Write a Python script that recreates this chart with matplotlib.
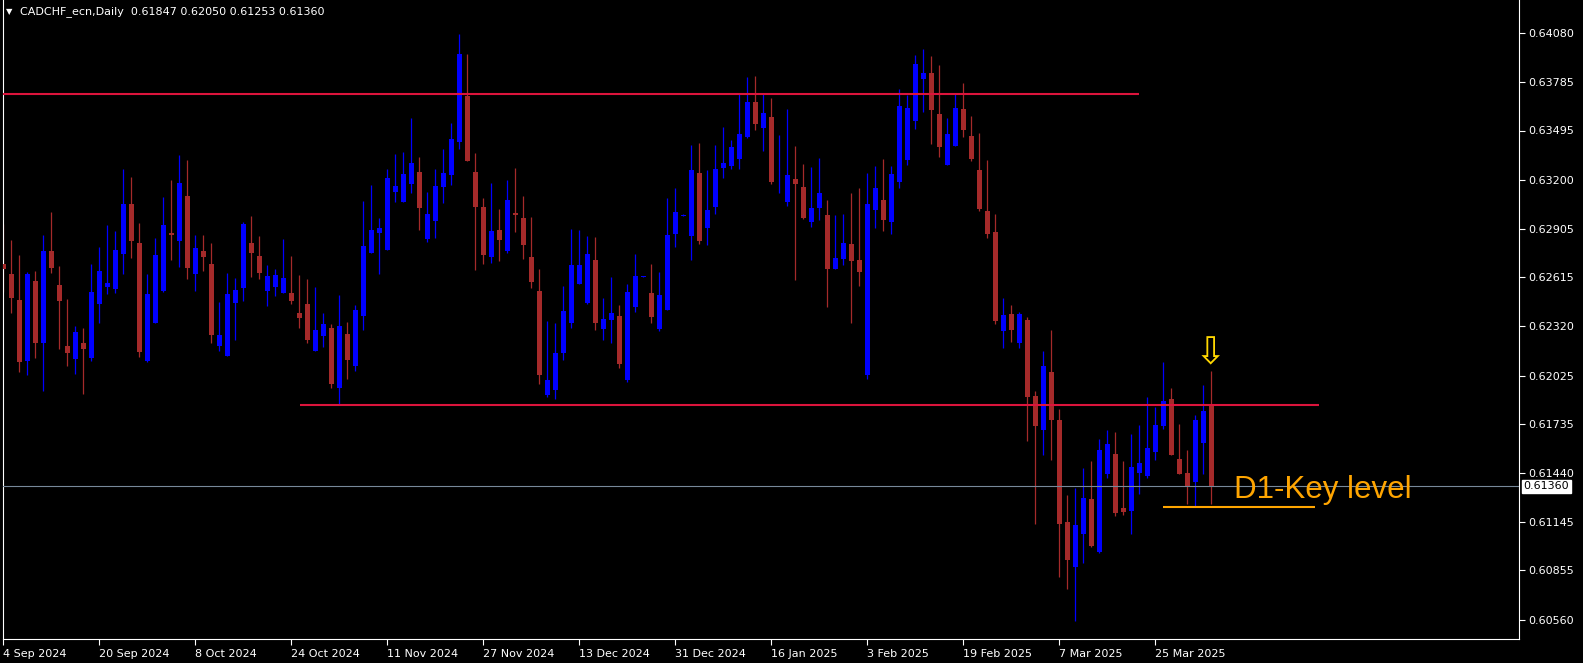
import numpy as np
import matplotlib
matplotlib.use("Agg")
import matplotlib.pyplot as plt

# daily CADCHF candles, 4 Sep 2024 .. 3 Apr 2025 (one per trading day)
opens = [0.62694, 0.62634, 0.62478, 0.62114, 0.62592, 0.62218, 0.62772, 0.62568, 0.62202, 0.62124,
         0.62220, 0.62132, 0.62456, 0.62556, 0.62544, 0.62756, 0.63054, 0.62820, 0.62114, 0.62342,
         0.62534, 0.62880, 0.62834, 0.63102, 0.62636, 0.62772, 0.62694, 0.62204, 0.62144, 0.62462,
         0.62552, 0.62820, 0.62742, 0.62534, 0.62558, 0.62522, 0.62520, 0.62400, 0.62454, 0.62174,
         0.62264, 0.62310, 0.61952, 0.62274, 0.62084, 0.62384, 0.62762, 0.62882, 0.62780, 0.63128,
         0.63068, 0.63176, 0.63246, 0.62846, 0.62954, 0.63158, 0.63230, 0.63428, 0.63702, 0.63246,
         0.63038, 0.62738, 0.62900, 0.62774, 0.63000, 0.62970, 0.62736, 0.62532, 0.61908, 0.61940,
         0.62162, 0.62342, 0.62576, 0.62462, 0.62718, 0.62306, 0.62360, 0.62382, 0.62000, 0.62438,
         0.62619, 0.62520, 0.62306, 0.62420, 0.62876, 0.62985, 0.62864, 0.63240, 0.62912, 0.63038,
         0.63272, 0.63284, 0.63326, 0.63458, 0.63666, 0.63512, 0.63576, 0.63142, 0.63068, 0.63204,
         0.63156, 0.62948, 0.63032, 0.62988, 0.62666, 0.62726, 0.62814, 0.62718, 0.62026, 0.63020,
         0.63078, 0.62948, 0.63188, 0.63320, 0.63554, 0.63806, 0.63840, 0.63594, 0.63290, 0.63404,
         0.63624, 0.63462, 0.63258, 0.63012, 0.62886, 0.62294, 0.62394, 0.62222, 0.62358, 0.61902,
         0.61700, 0.62046, 0.61758, 0.61146, 0.60878, 0.61076, 0.61284, 0.60968, 0.61436, 0.61554,
         0.61230, 0.61214, 0.61442, 0.61424, 0.61568, 0.61724, 0.61884, 0.61524, 0.61440, 0.61388,
         0.61622, 0.61847]
highs = [0.62934, 0.62838, 0.62748, 0.62644, 0.62652, 0.62868, 0.63006, 0.62682, 0.62484, 0.62322,
         0.62310, 0.62694, 0.62796, 0.62928, 0.62892, 0.63264, 0.63216, 0.62940, 0.62636, 0.62852,
         0.63096, 0.63198, 0.63348, 0.63318, 0.62868, 0.62868, 0.62820, 0.62466, 0.62640, 0.62610,
         0.62946, 0.62982, 0.62862, 0.62688, 0.62664, 0.62844, 0.62742, 0.62628, 0.62604, 0.62556,
         0.62400, 0.62334, 0.62508, 0.62346, 0.62448, 0.63072, 0.63168, 0.62970, 0.63264, 0.63354,
         0.63366, 0.63570, 0.63336, 0.63126, 0.63264, 0.63384, 0.63540, 0.64074, 0.63954, 0.63360,
         0.63092, 0.63180, 0.63024, 0.63198, 0.63270, 0.63102, 0.62976, 0.62664, 0.62352, 0.62340,
         0.62562, 0.62904, 0.62898, 0.62862, 0.62856, 0.62490, 0.62616, 0.62448, 0.62574, 0.62754,
         0.62622, 0.62694, 0.62646, 0.63090, 0.63150, 0.62994, 0.63408, 0.63420, 0.63258, 0.63408,
         0.63516, 0.63438, 0.63720, 0.63816, 0.63822, 0.63720, 0.63690, 0.63468, 0.63624, 0.63402,
         0.63294, 0.63276, 0.63330, 0.63078, 0.62988, 0.62994, 0.63120, 0.63150, 0.63240, 0.63282,
         0.63324, 0.63282, 0.63744, 0.63708, 0.63948, 0.63984, 0.63942, 0.63888, 0.63570, 0.63714,
         0.63780, 0.63582, 0.63480, 0.63318, 0.62994, 0.62492, 0.62448, 0.62406, 0.62376, 0.61932,
         0.62172, 0.62298, 0.61824, 0.61308, 0.61350, 0.61470, 0.61512, 0.61644, 0.61698, 0.61686,
         0.61512, 0.61674, 0.61728, 0.61896, 0.61836, 0.62106, 0.61950, 0.61734, 0.61578, 0.61788,
         0.61968, 0.62050]
lows = [0.62528, 0.62402, 0.62048, 0.62028, 0.62132, 0.61934, 0.62642, 0.62184, 0.62084, 0.62036,
        0.61914, 0.62112, 0.62342, 0.62516, 0.62522, 0.62636, 0.62732, 0.62136, 0.62109, 0.62340,
        0.62528, 0.62720, 0.62678, 0.62606, 0.62534, 0.62654, 0.62222, 0.62174, 0.62142, 0.62240,
        0.62474, 0.62618, 0.62606, 0.62444, 0.62504, 0.62520, 0.62456, 0.62312, 0.62222, 0.62172,
        0.62198, 0.61952, 0.61856, 0.62006, 0.62054, 0.62300, 0.62760, 0.62636, 0.62778, 0.63068,
        0.63066, 0.63122, 0.62900, 0.62828, 0.62852, 0.63062, 0.63170, 0.63386, 0.63314, 0.62660,
        0.62696, 0.62702, 0.62714, 0.62760, 0.62886, 0.62726, 0.62552, 0.61976, 0.61896, 0.61884,
        0.62120, 0.62312, 0.62574, 0.62456, 0.62300, 0.62240, 0.62222, 0.62072, 0.61988, 0.62408,
        0.62616, 0.62342, 0.62294, 0.62418, 0.62798, 0.62982, 0.62720, 0.62816, 0.62810, 0.62996,
        0.63212, 0.63266, 0.63266, 0.63452, 0.63500, 0.63374, 0.63176, 0.63122, 0.63044, 0.62600,
        0.62966, 0.62918, 0.62960, 0.62438, 0.62664, 0.62690, 0.62342, 0.62564, 0.62002, 0.62912,
        0.62894, 0.62876, 0.63152, 0.63290, 0.63506, 0.63608, 0.63416, 0.63338, 0.63288, 0.63402,
        0.63458, 0.63314, 0.63014, 0.62852, 0.62336, 0.62192, 0.62228, 0.62192, 0.61634, 0.61136,
        0.61550, 0.61520, 0.60818, 0.60746, 0.60552, 0.60902, 0.60998, 0.60962, 0.61412, 0.61184,
        0.61190, 0.61076, 0.61316, 0.61412, 0.61520, 0.61706, 0.61550, 0.61436, 0.61256, 0.61244,
        0.61436, 0.61253]
closes = [0.62662, 0.62492, 0.62108, 0.62634, 0.62222, 0.62772, 0.62672, 0.62474, 0.62162, 0.62286,
          0.62184, 0.62526, 0.62652, 0.62580, 0.62778, 0.63054, 0.62834, 0.62168, 0.62514, 0.62748,
          0.62928, 0.62870, 0.63180, 0.62672, 0.62790, 0.62738, 0.62270, 0.62268, 0.62514, 0.62538,
          0.62934, 0.62762, 0.62642, 0.62622, 0.62628, 0.62610, 0.62474, 0.62372, 0.62240, 0.62298,
          0.62334, 0.61976, 0.62322, 0.62120, 0.62418, 0.62802, 0.62898, 0.62910, 0.63210, 0.63162,
          0.63234, 0.63300, 0.63032, 0.62994, 0.63162, 0.63240, 0.63444, 0.63954, 0.63314, 0.63038,
          0.62750, 0.62894, 0.62840, 0.63080, 0.62990, 0.62810, 0.62588, 0.62030, 0.61998, 0.62160,
          0.62412, 0.62688, 0.62688, 0.62754, 0.62342, 0.62364, 0.62400, 0.62096, 0.62526, 0.62622,
          0.62622, 0.62378, 0.62508, 0.62868, 0.63006, 0.62990, 0.63258, 0.62834, 0.63018, 0.63264,
          0.63300, 0.63396, 0.63474, 0.63666, 0.63536, 0.63600, 0.63188, 0.63144, 0.63228, 0.63176,
          0.62972, 0.63030, 0.63120, 0.62666, 0.62730, 0.62820, 0.62714, 0.62648, 0.63054, 0.63150,
          0.62960, 0.63234, 0.63642, 0.63630, 0.63894, 0.63840, 0.63620, 0.63398, 0.63474, 0.63630,
          0.63500, 0.63326, 0.63026, 0.62876, 0.62354, 0.62388, 0.62300, 0.62394, 0.61898, 0.61724,
          0.62082, 0.61760, 0.61136, 0.60920, 0.61128, 0.61290, 0.61004, 0.61578, 0.61614, 0.61202,
          0.61208, 0.61476, 0.61500, 0.61590, 0.61728, 0.61872, 0.61550, 0.61436, 0.61358, 0.61758,
          0.61812, 0.61360]

date_pos = [0, 12, 24, 36, 48, 60, 72, 84, 96, 108, 120, 132, 144]
date_labels = ['4 Sep 2024', '20 Sep 2024', '8 Oct 2024', '24 Oct 2024', '11 Nov 2024',
               '27 Nov 2024', '13 Dec 2024', '31 Dec 2024', '16 Jan 2025', '3 Feb 2025',
               '19 Feb 2025', '7 Mar 2025', '25 Mar 2025']
price_ticks = [0.64080, 0.63785, 0.63495, 0.63200, 0.62905, 0.62615, 0.62320,
               0.62025, 0.61735, 0.61440, 0.61145, 0.60855, 0.60560]

# drawn objects on the chart
upper_level = 0.63716
lower_level = 0.61850
key_level = 0.61239
last_price = 0.61360

opens = np.array(opens)
highs = np.array(highs)
lows = np.array(lows)
closes = np.array(closes)
idx = np.arange(len(opens))

bull = '#0000FF'
bear = '#A52A2A'
cols = [bull if c >= o else bear for o, c in zip(opens, closes)]

W, H = 1583, 663
fig = plt.figure(figsize=(W / 100, H / 100), dpi=100, facecolor='black')
ax = fig.add_axes([2.5 / W, 24 / H, (1519 - 2.5) / W, 639 / H])
ax.set_facecolor('black')

# candles
ax.vlines(idx, lows, highs, colors=cols, linewidth=0.9, zorder=2)
body = np.maximum(np.abs(closes - opens), 0.00005)
ax.bar(idx, body, bottom=np.minimum(opens, closes), width=0.625, color=cols, linewidth=0, zorder=3)

# levels
ax.hlines(upper_level, -1, 142, colors='#DC143C', linewidth=1.5, zorder=4)
ax.hlines(lower_level, 37.1, 164.4, colors='#DC143C', linewidth=1.5, zorder=4)
ax.hlines(key_level, 145, 164, colors='#FFA500', linewidth=1.5, zorder=4)
ax.axhline(last_price, color='#778899', linewidth=0.8, zorder=4)

ax.text(150.9, 0.62150, '\u21e9', color='#FFD700', fontsize=27, ha='center', va='center',
        family='DejaVu Sans', zorder=5)
ax.text(153.8, 0.61340, 'D1-Key level', color='#FFA500', fontsize=22.5, ha='left', va='center',
        family='Liberation Sans', zorder=5)

ax.set_xlim(-0.1, 189.46)
ax.set_ylim(0.60444, 0.64278)

ax.yaxis.tick_right()
ax.set_yticks(price_ticks)
ax.set_yticklabels([f'{p:.5f}' for p in price_ticks])
ax.set_xticks(date_pos)
ax.set_xticklabels(date_labels)
for lab in ax.get_xticklabels():
    lab.set_ha('left')
ax.tick_params(axis='y', colors='white', length=4, width=0.8, labelsize=8, pad=3)
ax.tick_params(axis='x', colors='white', length=4, width=0.8, labelsize=8, pad=3)
for s in ax.spines.values():
    s.set_color('white')
    s.set_linewidth(0.8)
ax.spines['top'].set_visible(False)

# current price box on the axis
ax.text(1.003, last_price, '0.61360', transform=ax.get_yaxis_transform(), color='black',
        fontsize=8, ha='left', va='center', zorder=6,
        bbox=dict(boxstyle='square,pad=0.12', facecolor='white', edgecolor='white'))

fig.text(9 / W, 1 - 12 / H, '\u25bc', color='white', fontsize=6, ha='center', va='center')
fig.text(20 / W, 1 - 12 / H, 'CADCHF_ecn,Daily  0.61847 0.62050 0.61253 0.61360',
         color='white', fontsize=8, ha='left', va='center')

fig.savefig('out.png', dpi=100, facecolor='black')
